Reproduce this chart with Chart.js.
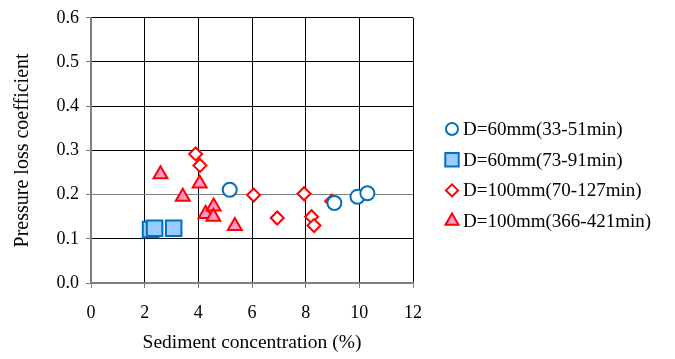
<!DOCTYPE html>
<html>
<head>
<meta charset="utf-8">
<script src="https://cdn.jsdelivr.net/npm/chart.js@4/dist/chart.umd.min.js"></script>
<style>
  html, body { margin: 0; padding: 0; background: #fff; }
  #wrap { width: 675px; height: 359px; position: relative; }
</style>
</head>
<body>
<div id="wrap"><canvas id="chart"></canvas></div>
<script>
// series data (x = sediment concentration %, y = pressure loss coefficient)
const d60aX = [5.17, 9.07, 9.93, 10.30];
const d60aY = [0.211, 0.181, 0.195, 0.203];
const d60bX = [2.22, 2.37, 3.08];
const d60bY = [0.121, 0.124, 0.124];
const d100aX = [3.90, 4.06, 6.06, 6.94, 7.94, 8.22, 8.31, 8.97];
const d100aY = [0.292, 0.266, 0.199, 0.147, 0.202, 0.150, 0.130, 0.185];
const d100bX = [2.59, 3.42, 4.05, 4.27, 4.57, 4.56, 5.36];
const d100bY = [0.246, 0.195, 0.225, 0.156, 0.173, 0.150, 0.129];

const seriesLabels = ['D=60mm(33-51min)', 'D=60mm(73-91min)', 'D=100mm(70-127min)', 'D=100mm(366-421min)'];
const xTicks = [0, 2, 4, 6, 8, 10, 12];
const yTicks = [0.0, 0.1, 0.2, 0.3, 0.4, 0.5, 0.6];

function pts(xs, ys) {
    return xs.map((x, i) => ({ x: x, y: ys[i] }));
}

const serif = '"Liberation Serif", "Times New Roman", serif';

// legend drawn by hand on the right, markers a bit smaller than in the plot
const sideLegend = {
    id: 'sideLegend',
    afterDraw(chart) {
        const c = chart.ctx;
        const legendSizes = [6, 9.5, 6, 7.5];
        c.save();
        chart.data.datasets.forEach((ds, i) => {
            const y = 129 + i * 30.7;
            c.fillStyle = ds.backgroundColor;
            c.strokeStyle = ds.borderColor;
            c.lineWidth = 2;
            Chart.helpers.drawPoint(c, {
                pointStyle: ds.pointStyle,
                radius: legendSizes[i],
                rotation: 0,
                borderWidth: 2
            }, 452, y);
            c.fillStyle = '#000';
            c.font = '19px ' + serif;
            c.textBaseline = 'middle';
            c.textAlign = 'left';
            c.fillText(ds.label, 463, y + 1);
        });
        c.restore();
    }
};

const ctx = document.getElementById('chart');
new Chart(ctx, {
    type: 'scatter',
    data: {
        datasets: [{
            label: seriesLabels[0],
            data: pts(d60aX, d60aY),
            pointStyle: 'circle',
            pointRadius: 7,
            borderColor: '#0070C0',
            backgroundColor: '#ffffff',
            borderWidth: 2
        }, {
            label: seriesLabels[1],
            data: pts(d60bX, d60bY),
            pointStyle: 'rect',
            pointRadius: 11,
            borderColor: '#0070C0',
            backgroundColor: '#99CCFF',
            borderWidth: 2
        }, {
            label: seriesLabels[2],
            data: pts(d100aX, d100aY),
            pointStyle: 'rectRot',
            pointRadius: 6.5,
            borderColor: '#FF0000',
            backgroundColor: '#ffffff',
            borderWidth: 2
        }, {
            label: seriesLabels[3],
            data: pts(d100bX, d100bY),
            pointStyle: 'triangle',
            pointRadius: 8,
            borderColor: '#FF0000',
            backgroundColor: '#FF99CC',
            borderWidth: 2
        }]
    },
    plugins: [sideLegend],
    options: {
        responsive: true,
        maintainAspectRatio: false,
        animation: false,
        layout: {
            padding: { left: 0, right: 262, top: 14, bottom: 0 }
        },
        plugins: {
            legend: { display: false },
            tooltip: { enabled: false }
        },
        scales: {
            x: {
                type: 'linear',
                min: 0,
                max: 12,
                afterBuildTicks: function(axis) {
                    axis.ticks = xTicks.map(v => ({ value: v }));
                },
                afterFit: function(axis) {
                    axis.height = 76;
                },
                ticks: {
                    color: '#000',
                    padding: 14,
                    font: { family: serif, size: 18 }
                },
                grid: {
                    color: function(c) { return c.tick && c.tick.value === 0 ? '#808080' : '#000000'; },
                    tickColor: '#808080',
                    tickLength: 5
                },
                border: { color: '#808080', width: 2 },
                title: {
                    display: true,
                    text: 'Sediment concentration (%)',
                    color: '#000',
                    font: { family: serif, size: 19.5 },
                    padding: { top: 0, bottom: 4 }
                }
            },
            y: {
                min: 0,
                max: 0.6,
                afterBuildTicks: function(axis) {
                    axis.ticks = yTicks.map(v => ({ value: v }));
                },
                afterFit: function(axis) {
                    axis.width = 91;
                },
                ticks: {
                    color: '#000',
                    padding: 7,
                    font: { family: serif, size: 18 },
                    callback: function(v) { return Number(v).toFixed(1); }
                },
                grid: {
                    color: function(c) {
                        if (!c.tick) return '#000';
                        if (Math.abs(c.tick.value - 0.2) < 1e-6 || c.tick.value === 0) return '#808080';
                        return '#000000';
                    },
                    tickColor: '#808080',
                    tickLength: 5
                },
                border: { color: '#808080', width: 2 },
                title: {
                    display: true,
                    text: 'Pressure loss coefficient',
                    color: '#000',
                    font: { family: serif, size: 20 },
                    padding: { top: 11, bottom: 0 }
                }
            }
        }
    }
});
</script>
</body>
</html>
